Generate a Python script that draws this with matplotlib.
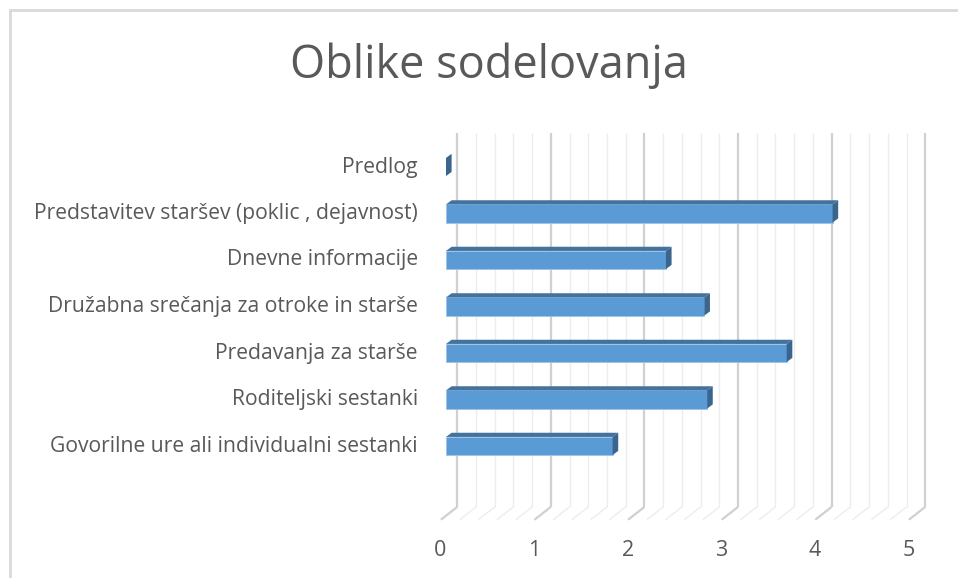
import matplotlib.pyplot as plt
from matplotlib.patches import Polygon, Rectangle

# Podatki (od spodaj navzgor)
categories = [
    'Govorilne ure ali individualni sestanki',
    'Roditeljski sestanki',
    'Predavanja za starše',
    'Družabna srečanja za otroke in starše',
    'Dnevne informacije',
    'Predstavitev staršev (poklic , dejavnost)',
    'Predlog',
]
values = [1.78, 2.79, 3.64, 2.76, 2.35, 4.13, 0.0]
x_ticks = [0, 1, 2, 3, 4, 5]
minor_step = 0.2

FONT = 'Open Sans'
TEXT_COLOR = '#595959'
FRONT = '#5B9BD5'
TOP = '#44729E'
SIDE = '#3A658F'

# zamiki za 3D videz (v enotah podatkov)
BACK_DX, BACK_DY = 0.12, 0.19
FRONT_DX, FRONT_DY = -0.055, -0.086
BAR_DX, BAR_DY = 0.06, 0.09
BAR_H = 0.39
Y_MIN, Y_MAX = -1.5, 6.54


def draw_walls(ax):
    n = int(round(x_ticks[-1] / minor_step))
    for k in range(n + 1):
        v = k * minor_step
        major = k % 5 == 0
        col = '#D0D0D0' if major else '#EDEDED'
        lw = 1.6 if major else 1.0
        # zadnja stena
        ax.plot([v + BACK_DX, v + BACK_DX], [Y_MIN + BACK_DY, Y_MAX + BACK_DY],
                color=col, lw=lw, zorder=1, solid_capstyle='butt')
        # tla
        ax.plot([v + BACK_DX, v + FRONT_DX], [Y_MIN + BACK_DY, Y_MIN + FRONT_DY],
                color=col, lw=lw, zorder=1, solid_capstyle='butt')


def draw_bars(ax):
    for i, v in enumerate(values):
        y0, y1 = i - BAR_H / 2, i + BAR_H / 2
        if v > 0:
            ax.add_patch(Rectangle((0, y0), v, BAR_H, facecolor=FRONT,
                                   edgecolor='#9DC3E6', lw=0.6, zorder=3))
            ax.add_patch(Polygon([(0, y1), (v, y1), (v + BAR_DX, y1 + BAR_DY),
                                  (BAR_DX, y1 + BAR_DY)], closed=True,
                                 facecolor=TOP, edgecolor='none', zorder=3))
        ax.add_patch(Polygon([(v, y0), (v, y1), (v + BAR_DX, y1 + BAR_DY),
                              (v + BAR_DX, y0 + BAR_DY)], closed=True,
                             facecolor=SIDE, edgecolor='none', zorder=3))


def main():
    fig = plt.figure(figsize=(9.58, 5.78), dpi=100)
    W, H = 958, 578

    # okvir
    fig.patches.append(Rectangle((10 / W, -0.1), 1.2, (H - 10) / H + 0.1,
                                 transform=fig.transFigure, fill=False,
                                 edgecolor='#D9D9D9', lw=2))

    # os: x 0 -> 446 px, 5 -> 914 px; y: i -> 446 - 46.5*i px
    xs = 93.6
    x0, x1 = -0.4, 5.3
    y0, y1 = -2.6, 7.2
    left = 446 + x0 * xs
    right = 446 + x1 * xs
    bottom_px = 446 - y0 * 46.5
    top_px = 446 - y1 * 46.5
    ax = fig.add_axes([left / W, 1 - bottom_px / H, (right - left) / W,
                       (bottom_px - top_px) / H])
    ax.set_xlim(x0, x1)
    ax.set_ylim(y0, y1)
    ax.axis('off')

    draw_walls(ax)
    draw_bars(ax)

    for t in x_ticks:
        ax.text(t - 0.06, -2.24, str(t), ha='center', va='center',
                fontsize=15.5, color=TEXT_COLOR, family=FONT)
    for i, c in enumerate(categories):
        ax.text(-0.3, i, c, ha='right', va='center', fontsize=15.2,
                color=TEXT_COLOR, family=FONT)

    fig.text(489 / W, 1 - 66 / H, 'Oblike sodelovanja', ha='center', va='center',
             fontsize=32.5, color=TEXT_COLOR, family=FONT)

    fig.savefig('out.png', dpi=100, facecolor='white')


if __name__ == '__main__':
    main()
